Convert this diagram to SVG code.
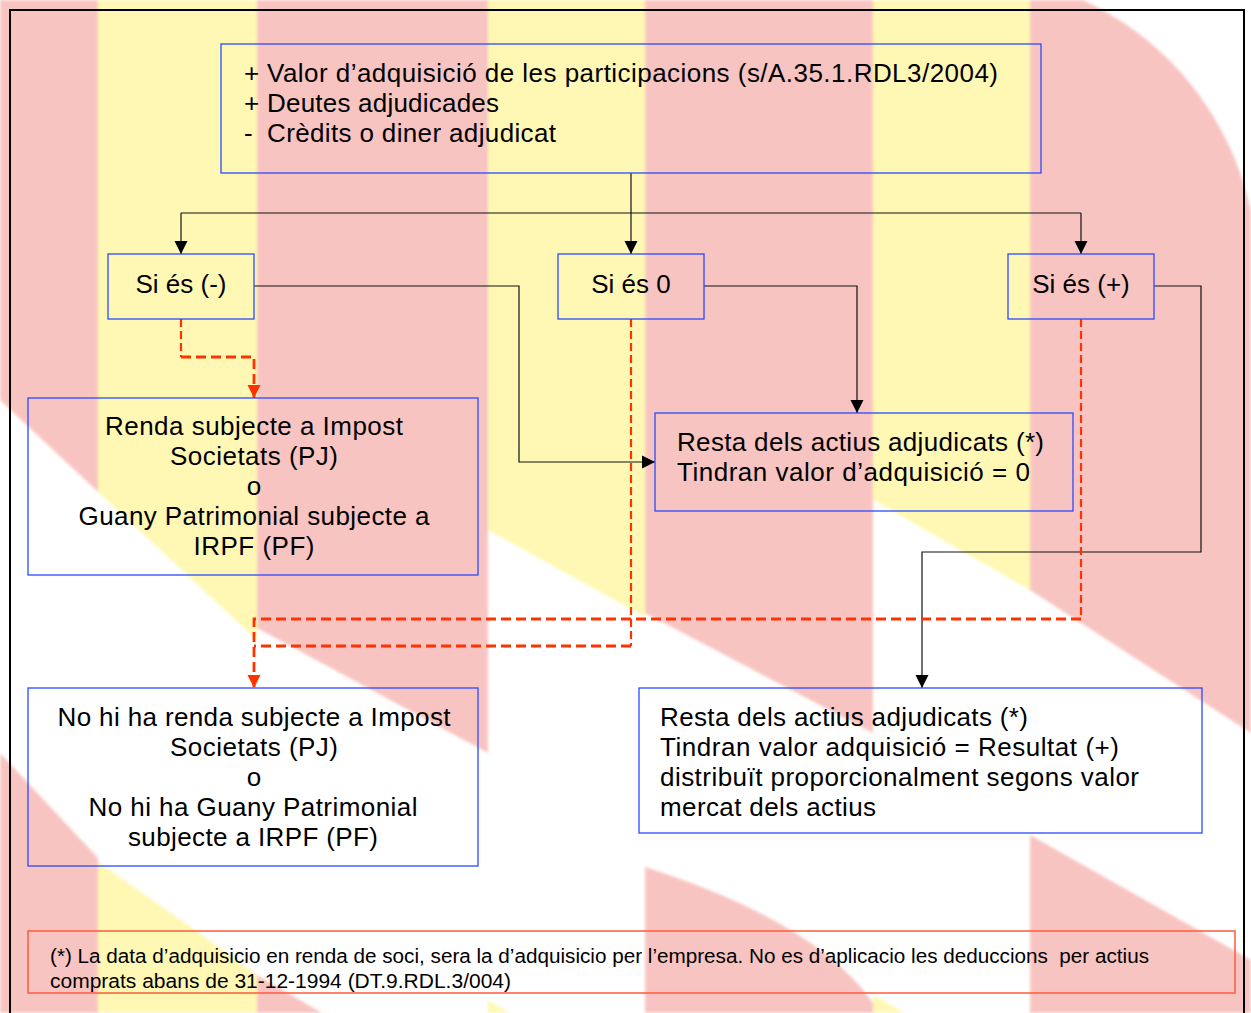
<svg xmlns="http://www.w3.org/2000/svg" width="1251" height="1013" viewBox="0 0 1251 1013">
<defs>
<style>
.box{fill:none;stroke:#2a4bff;stroke-width:1.3}
.t{font-family:"Liberation Sans",Arial,sans-serif;font-size:26px;fill:#000}
.c{text-anchor:middle}
.ln{fill:none;stroke:#111;stroke-width:1.2}
.rd{fill:none;stroke:#ff3300;stroke-width:2.2;stroke-dasharray:8 4}
.rdh{stroke-width:2.8;stroke-dasharray:10 5}
.pk{fill:#f8c4c1}
.yl{fill:#fff8b4}
.note{font-size:20px}
</style>
<filter id="soft" x="-5%" y="-5%" width="110%" height="110%"><feGaussianBlur stdDeviation="1.5"/></filter>
<marker id="ab" markerUnits="userSpaceOnUse" markerWidth="14" markerHeight="14" viewBox="0 0 14 14" refX="13" refY="7" orient="auto"><path d="M0,0.5 L13,7 L0,13.5 z" fill="#000"/></marker>
<marker id="ar" markerUnits="userSpaceOnUse" markerWidth="14" markerHeight="14" viewBox="0 0 14 14" refX="13" refY="7" orient="auto"><path d="M0,0.5 L13,7 L0,13.5 z" fill="#ff3300"/></marker>
</defs>
<rect width="1251" height="1013" fill="#fff"/>
<g id="watermark" filter="url(#soft)">
<polygon class="pk" points="0,0 98,0 98,492 0,400"/>
<polygon class="yl" points="98,0 257,0 257,640 98,492"/>
<polygon class="pk" points="257,0 488,0 488,753 257,628"/>
<polygon class="yl" points="488,0 645,0 645,617 488,530"/>
<polygon class="pk" points="645,0 873,0 873,733 645,613"/>
<polygon class="yl" points="873,0 1030,0 1030,590 873,500"/>
<polygon class="pk" points="1030,0 1251,0 1251,733 1030,590"/>
<path fill="#fff" d="M1083,0 A300,300 0 0 1 1251,333 L1251,0 Z"/>
<polygon class="pk" points="0,753 98,858 98,1013 0,1013"/>
<polygon class="yl" points="98,862 188,925 257,975 257,1013 98,1013"/>
<polygon class="pk" points="257,975 322,1013 257,1013"/>
<polygon class="yl" points="488,1000 510,1013 488,1013"/>
<path class="pk" d="M645,867 Q817,922 873,1003 L873,1013 L645,1013 Z"/>
<polygon class="yl" points="873,995 905,1013 873,1013"/>
<polygon class="pk" points="1030,835 1251,960 1251,1013 1030,1013"/>
</g>
<rect x="10" y="10" width="1234" height="1030" fill="none" stroke="#000" stroke-width="2"/>

<g id="connectors">
<path class="ln" d="M631,173 V254" marker-end="url(#ab)"/>
<path class="ln" d="M181,213 H1081"/>
<path class="ln" d="M181,213 V254" marker-end="url(#ab)"/>
<path class="ln" d="M1081,213 V254" marker-end="url(#ab)"/>
<path class="ln" d="M254,286 H519 V462 H655" marker-end="url(#ab)"/>
<path class="ln" d="M704,286 H857 V413" marker-end="url(#ab)"/>
<path class="ln" d="M1154,286 H1201 V552 H922 V688" marker-end="url(#ab)"/>
<path class="rd" d="M181,319 V357"/>
<path class="rd rdh" d="M181,357 H254 V398" marker-end="url(#ar)"/>
<path class="rd" d="M631,319 V646"/>
<path class="rd rdh" d="M631,646 H254"/>
<path class="rd" d="M1081,319 V619"/>
<path class="rd rdh" d="M1081,619 H254 V688" marker-end="url(#ar)"/>
</g>

<g id="n-top">
<rect class="box" x="221" y="44" width="820" height="129"/>
<text class="t" x="244" y="82">+</text>
<text class="t" x="267" y="82" textLength="731" lengthAdjust="spacing">Valor d’adquisició de les participacions (s/A.35.1.RDL3/2004)</text>
<text class="t" x="244" y="112">+</text>
<text class="t" x="267" y="112" textLength="232" lengthAdjust="spacing">Deutes adjudicades</text>
<text class="t" x="244" y="142">-</text>
<text class="t" x="267" y="142" textLength="289" lengthAdjust="spacing">Crèdits o diner adjudicat</text>
</g>

<g id="n-neg">
<rect class="box" x="108" y="254" width="146" height="65"/>
<text class="t c" x="181" y="293">Si és (-)</text>
</g>
<g id="n-zero">
<rect class="box" x="558" y="254" width="146" height="65"/>
<text class="t c" x="631" y="293">Si és 0</text>
</g>
<g id="n-pos">
<rect class="box" x="1008" y="254" width="146" height="65"/>
<text class="t c" x="1081" y="293">Si és (+)</text>
</g>

<g id="n-renda">
<rect class="box" x="28" y="398" width="450" height="177"/>
<text class="t c" x="254" y="435" textLength="298" lengthAdjust="spacing">Renda subjecte a Impost</text>
<text class="t c" x="254" y="465" textLength="168" lengthAdjust="spacing">Societats (PJ)</text>
<text class="t c" x="254" y="495">o</text>
<text class="t c" x="254" y="525" textLength="351" lengthAdjust="spacing">Guany Patrimonial subjecte a</text>
<text class="t c" x="254" y="555" textLength="121" lengthAdjust="spacing">IRPF (PF)</text>
</g>

<g id="n-resta0">
<rect class="box" x="655" y="413" width="418" height="98"/>
<text class="t" x="677" y="451" textLength="367" lengthAdjust="spacing">Resta dels actius adjudicats (*)</text>
<text class="t" x="677" y="481" textLength="353" lengthAdjust="spacing">Tindran valor d’adquisició = 0</text>
</g>

<g id="n-norenda">
<rect class="box" x="28" y="688" width="450" height="178"/>
<text class="t c" x="254" y="726" textLength="393" lengthAdjust="spacing">No hi ha renda subjecte a Impost</text>
<text class="t c" x="254" y="756" textLength="168" lengthAdjust="spacing">Societats (PJ)</text>
<text class="t c" x="254" y="786">o</text>
<text class="t c" x="253" y="816" textLength="329" lengthAdjust="spacing">No hi ha Guany Patrimonial</text>
<text class="t c" x="253" y="846" textLength="250" lengthAdjust="spacing">subjecte a IRPF (PF)</text>
</g>

<g id="n-restapos">
<rect class="box" x="639" y="688" width="563" height="145"/>
<text class="t" x="660" y="726" textLength="368" lengthAdjust="spacing">Resta dels actius adjudicats (*)</text>
<text class="t" x="660" y="756" textLength="459" lengthAdjust="spacing">Tindran valor adquisició = Resultat (+)</text>
<text class="t" x="660" y="786" textLength="479" lengthAdjust="spacing">distribuït proporcionalment segons valor</text>
<text class="t" x="660" y="816" textLength="216" lengthAdjust="spacing">mercat dels actius</text>
</g>

<g id="n-note">
<rect x="28" y="931" width="1207" height="62" fill="none" stroke="#ff5a3c" stroke-width="1.5"/>
<text class="t note" x="50" y="963" xml:space="preserve" textLength="1099" lengthAdjust="spacingAndGlyphs">(*) La data d’adquisicio en renda de soci, sera la d’adquisicio per l’empresa. No es d’aplicacio les deduccions  per actius</text>
<text class="t note" x="50" y="988" textLength="461" lengthAdjust="spacingAndGlyphs">comprats abans de 31-12-1994 (DT.9.RDL.3/004)</text>
</g>
</svg>
